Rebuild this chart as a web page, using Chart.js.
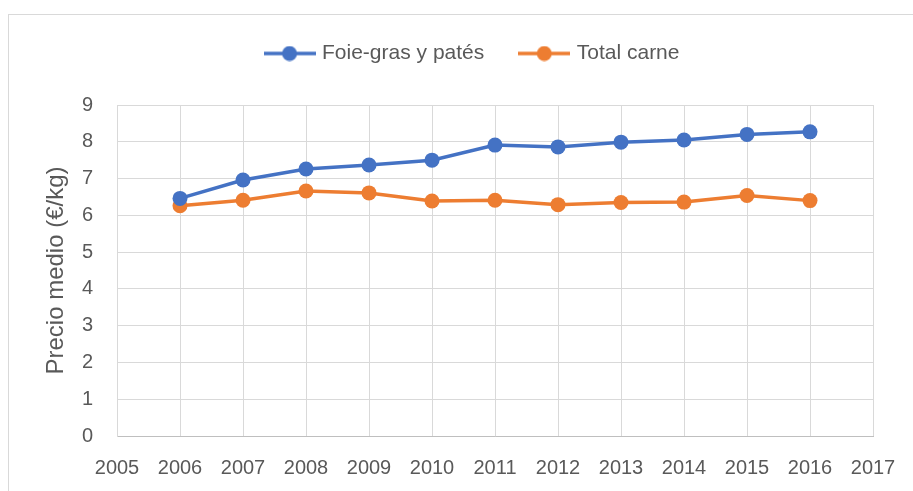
<!DOCTYPE html>
<html>
<head>
<meta charset="utf-8">
<script src="https://cdn.jsdelivr.net/npm/chart.js@4.4.0/dist/chart.umd.min.js"></script>
<style>
  html, body { margin: 0; padding: 0; background: #fff; }
  #wrap { position: relative; width: 913px; height: 491px; overflow: hidden; }
  #frame { position: absolute; left: 8px; top: 14px; width: 1000px; height: 600px; border: 1px solid #d9d9d9; box-sizing: border-box; }
  canvas { position: absolute; left: 0; top: 0; }
</style>
</head>
<body>
<div id="wrap">
  <div id="frame"></div>
  <canvas id="c" width="913" height="491"></canvas>
</div>
<script>
const years = [2006, 2007, 2008, 2009, 2010, 2011, 2012, 2013, 2014, 2015, 2016];
const foieGras = [6.46, 6.96, 7.26, 7.37, 7.50, 7.91, 7.86, 7.99, 8.05, 8.20, 8.27];
const totalCarne = [6.26, 6.41, 6.66, 6.61, 6.39, 6.41, 6.29, 6.35, 6.36, 6.54, 6.40];
const seriesNames = ['Foie-gras y patés', 'Total carne'];
const xMin = 2005, xMax = 2017;
const yMin = 0, yMax = 9;

const BLUE = '#4472C4', ORANGE = '#ED7D31', TEXT = '#595959', GRID = '#d9d9d9';

function legendIcon(color) {
  const c = document.createElement('canvas');
  c.width = 52; c.height = 16;
  const g = c.getContext('2d');
  g.strokeStyle = color; g.lineWidth = 3.5;
  g.beginPath(); g.moveTo(0, 8); g.lineTo(52, 8); g.stroke();
  g.fillStyle = color;
  g.beginPath(); g.arc(26, 8, 7.5, 0, Math.PI * 2); g.fill();
  return c;
}
const icons = [legendIcon(BLUE), legendIcon(ORANGE)];

const toPts = (vals) => years.map((x, i) => ({ x, y: vals[i] }));

Chart.defaults.font.family = '"Liberation Sans", Arial, sans-serif';
Chart.defaults.color = TEXT;

const shiftLegend = {
  id: 'shiftLegend',
  afterLayout(chart) {
    const l = chart.legend;
    if (l) { l.left += 37; l.right += 37; l.top += 1; l.bottom += 1; }
  }
};

new Chart(document.getElementById('c'), {
  type: 'line',
  plugins: [shiftLegend],
  data: {
    datasets: [
      { label: seriesNames[0], data: toPts(foieGras), borderColor: BLUE, backgroundColor: BLUE,
        borderWidth: 3.5, pointRadius: 7.5, pointHoverRadius: 7.5, pointBorderWidth: 0, tension: 0 },
      { label: seriesNames[1], data: toPts(totalCarne), borderColor: ORANGE, backgroundColor: ORANGE,
        borderWidth: 3.5, pointRadius: 7.5, pointHoverRadius: 7.5, pointBorderWidth: 0, tension: 0 }
    ]
  },
  options: {
    responsive: false,
    animation: false,
    events: [],
    layout: { padding: { top: 4, left: 0, right: 40, bottom: 0 } },
    plugins: {
      tooltip: { enabled: false },
      subtitle: { display: true, text: '', weight: 500, position: 'top', font: { size: 10 }, padding: { top: 0, bottom: 20 } },
      legend: {
        position: 'top',
        labels: {
          usePointStyle: true,
          pointStyleWidth: 44,
          padding: 38,
          color: TEXT,
          font: { size: 21 },
          generateLabels: (chart) => chart.data.datasets.map((d, i) => ({
            text: d.label, pointStyle: icons[i], fillStyle: d.backgroundColor,
            strokeStyle: d.borderColor, lineWidth: 0, hidden: false, datasetIndex: i, fontColor: TEXT
          }))
        }
      }
    },
    scales: {
      x: {
        type: 'linear', min: xMin, max: xMax,
        afterFit: (s) => { s.height = 55; s.paddingRight = 0; s.paddingLeft = 0; },
        grid: { color: GRID, lineWidth: 1, drawTicks: false },
        border: { color: '#bfbfbf', width: 1 },
        ticks: { stepSize: 1, padding: 20, color: TEXT, font: { size: 20 }, maxRotation: 0, autoSkip: false,
                 callback: (v) => String(v) }
      },
      y: {
        min: yMin, max: yMax,
        afterFit: (s) => { s.width = 117; },
        grid: { color: GRID, lineWidth: 1, drawTicks: false },
        border: { color: GRID, width: 1 },
        ticks: { stepSize: 1, padding: 24, color: TEXT, font: { size: 20 } },
        title: { display: true, text: 'Precio medio (€/kg)', color: TEXT, font: { size: 24 }, padding: { top: 42, bottom: 0 } }
      }
    }
  }
});
</script>
</body>
</html>
